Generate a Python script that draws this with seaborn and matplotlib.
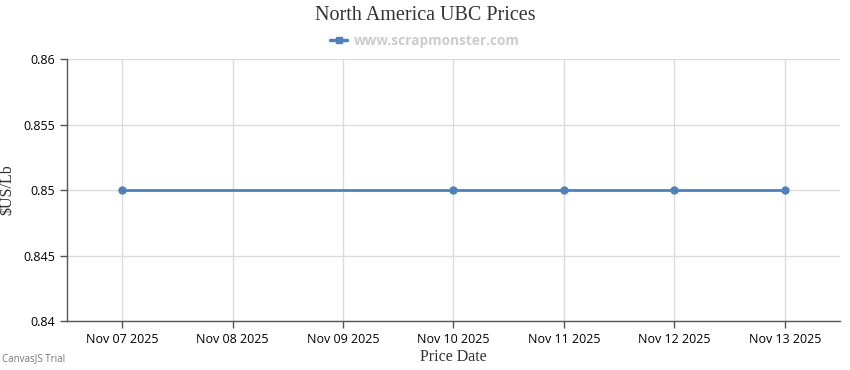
import pandas as pd
import matplotlib
matplotlib.use("Agg")
import matplotlib.pyplot as plt
import matplotlib.dates as mdates
from matplotlib.lines import Line2D
import seaborn as sns

# Chart data
dates = ["2025-11-07", "2025-11-10", "2025-11-11", "2025-11-12", "2025-11-13"]
prices = [0.85, 0.85, 0.85, 0.85, 0.85]
y_ticks = [0.84, 0.845, 0.85, 0.855, 0.86]
y_tick_labels = ["0.84", "0.845", "0.85", "0.855", "0.86"]
tick_dates = pd.date_range("2025-11-07", "2025-11-13", freq="D")

df = pd.DataFrame({"date": pd.to_datetime(dates), "price": prices})

sns.set_theme(style="whitegrid")
plt.rcParams["font.family"] = ["Open Sans", "DejaVu Sans"]

fig = plt.figure(figsize=(8.5, 3.7), dpi=100)
ax = fig.add_axes([0.0788, 0.1324, 0.9094, 0.7081])

line_color = "#4F81BC"
sns.lineplot(data=df, x="date", y="price", ax=ax, color=line_color,
             linewidth=2, marker="o", markersize=6, markeredgewidth=0,
             legend=False)

ax.set_xlim(pd.Timestamp("2025-11-06 12:00"), pd.Timestamp("2025-11-13 12:00"))
ax.set_ylim(0.84, 0.86)
ax.set_yticks(y_ticks)
ax.set_yticklabels(y_tick_labels)
ax.set_xticks(tick_dates)
ax.xaxis.set_major_formatter(mdates.DateFormatter("%b %d %Y"))

ax.grid(True, color="#dcdcdc", linewidth=1)
for side in ["top", "right"]:
    ax.spines[side].set_visible(False)
ax.spines["left"].set_color("#555555")
ax.spines["bottom"].set_color("#555555")
ax.spines["left"].set_linewidth(1)
ax.spines["bottom"].set_linewidth(1)
ax.tick_params(axis="both", which="both", length=5, width=1, color="#555555",
               labelsize=9, labelcolor="#000000", direction="out", left=True, bottom=True)

ax.set_xlabel("Price Date", family="Liberation Serif", fontsize=11.5, color="#333333", labelpad=2)
ax.set_ylabel("\\$US/Lb", family="Liberation Serif", fontsize=11.5, color="#333333", labelpad=6)

fig.text(0.5, 0.957, "North America UBC Prices", ha="center", va="center",
         family="Liberation Serif", fontsize=14.5, color="#333333")

handle = Line2D([], [], color=line_color, linewidth=2.5, marker="s", markersize=5)
leg = fig.legend(handles=[handle], labels=["www.scrapmonster.com"],
                 loc="center", bbox_to_anchor=(0.5, 0.89), frameon=False,
                 fontsize=9.8, handlelength=1.2, handletextpad=0.5)
for t in leg.get_texts():
    t.set_color("#cccccc")
    t.set_fontweight("bold")

fig.text(0.002, 0.015, "CanvasJS Trial", fontsize=7, color="#777777", ha="left", va="bottom")

fig.savefig("out.png", dpi=100)
